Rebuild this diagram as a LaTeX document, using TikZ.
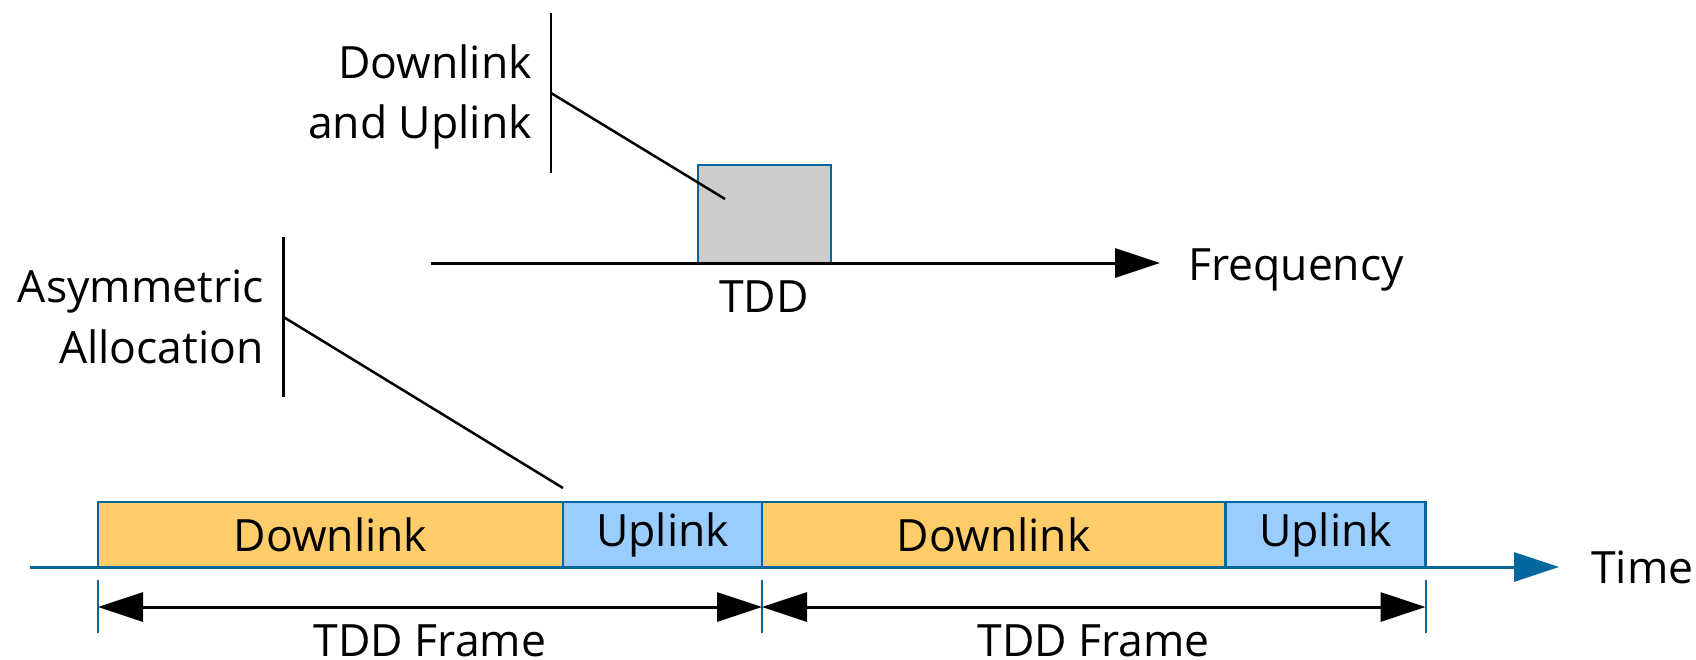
\documentclass[tikz,border=0pt]{standalone}
\usepackage{fontspec}
\setmainfont{Open Sans}
\usetikzlibrary{arrows.meta}
\definecolor{axisblue}{RGB}{0,104,157}
\definecolor{dlfill}{RGB}{254,204,104}
\definecolor{ulfill}{RGB}{153,204,255}
\definecolor{bandgray}{RGB}{204,204,204}
\tikzset{bigtip/.tip={Triangle[length=45pt,width=29pt]}}
\begin{document}
\begin{tikzpicture}[x=1pt,y=-1pt,
  lbl/.style={font=\fontsize{44.5}{53}\selectfont, inner sep=0pt},
  slot/.style={draw=axisblue, line width=2.5pt, minimum height=65pt, inner sep=0pt,
    font=\fontsize{44.5}{53}\selectfont},
  dlslot/.style={slot, fill=dlfill},
  ulslot/.style={slot, fill=ulfill},
  callout/.style={black, line width=2.5pt},
  tick/.style={axisblue, line width=2pt}
]
\useasboundingbox (0,0) rectangle (1696,659);

% ---- frequency axis with the TDD band ----
\node[draw=axisblue, fill=bandgray, line width=2.5pt, inner sep=0pt,
      minimum width=133pt, minimum height=98pt] (band) at (764.5,214) {};
\coordinate (fstart) at (431,263);
\coordinate (fend) at (1160,263);
\draw[line width=3pt, -{bigtip}] (fstart) -- (fend);
\node[lbl, anchor=base west] (freq) at (1188,280) {Frequency};
\node[lbl, anchor=base] (tdd) at (764,312) {TDD};

% ---- callout: Downlink and Uplink ----
\node[lbl, anchor=base east] (du1) at (532,78) {Downlink};
\node[lbl, anchor=base east] (du2) at (532,138) {and Uplink};
\coordinate (dubartop) at (551,13);
\coordinate (dubarbot) at (551,173);
\coordinate (dujoin) at (551,93);
\coordinate (duend) at (725,199);
\draw[callout] (dubartop) -- (dubarbot);
\draw[callout] (dujoin) -- (duend);

% ---- time axis with the frame slots ----
\coordinate (tstart) at (30,567);
\coordinate (tend) at (1559,567);
\draw[axisblue, line width=3pt, -{bigtip}] (tstart) -- (tend);
\node[lbl, anchor=base west] (time) at (1591,583) {Time};

\node[dlslot, minimum width=465pt] (dl1) at (330.5,534.5) {Downlink};
\node[ulslot, minimum width=199pt] (ul1) at (662.5,534.5) {Uplink};
\node[dlslot, minimum width=463.5pt] (dl2) at (993.75,534.5) {Downlink};
\node[ulslot, minimum width=200pt] (ul2) at (1325.5,534.5) {Uplink};

% ---- callout: Asymmetric Allocation ----
\node[lbl, anchor=base east] (aa1) at (264,302) {Asymmetric};
\node[lbl, anchor=base east] (aa2) at (264,363) {Allocation};
\coordinate (aabartop) at (283.5,237);
\coordinate (aabarbot) at (283.5,397);
\coordinate (aajoin) at (283.5,317);
\coordinate (aaend) at (563,488);
\draw[callout] (aabartop) -- (aabarbot);
\draw[callout] (aajoin) -- (aaend);

% ---- frame markers and frame lengths ----
\coordinate (m0t) at (98,580);   \coordinate (m0b) at (98,633);
\coordinate (m1t) at (762,580);  \coordinate (m1b) at (762,633);
\coordinate (m2t) at (1425.5,580); \coordinate (m2b) at (1425.5,633);
\draw[tick] (m0t) -- (m0b);
\draw[tick] (m1t) -- (m1b);
\draw[tick] (m2t) -- (m2b);
\coordinate (f0) at (98,607);
\coordinate (f1) at (762,607);
\coordinate (f2) at (1425.5,607);
\draw[line width=3pt, {bigtip}-{bigtip}] (f0) -- (f1);
\draw[line width=3pt, {bigtip}-{bigtip}] (f1) -- (f2);
\node[lbl, anchor=base] (fr1) at (430,656) {TDD Frame};
\node[lbl, anchor=base] (fr2) at (1093.75,656) {TDD Frame};
\end{tikzpicture}
\end{document}
